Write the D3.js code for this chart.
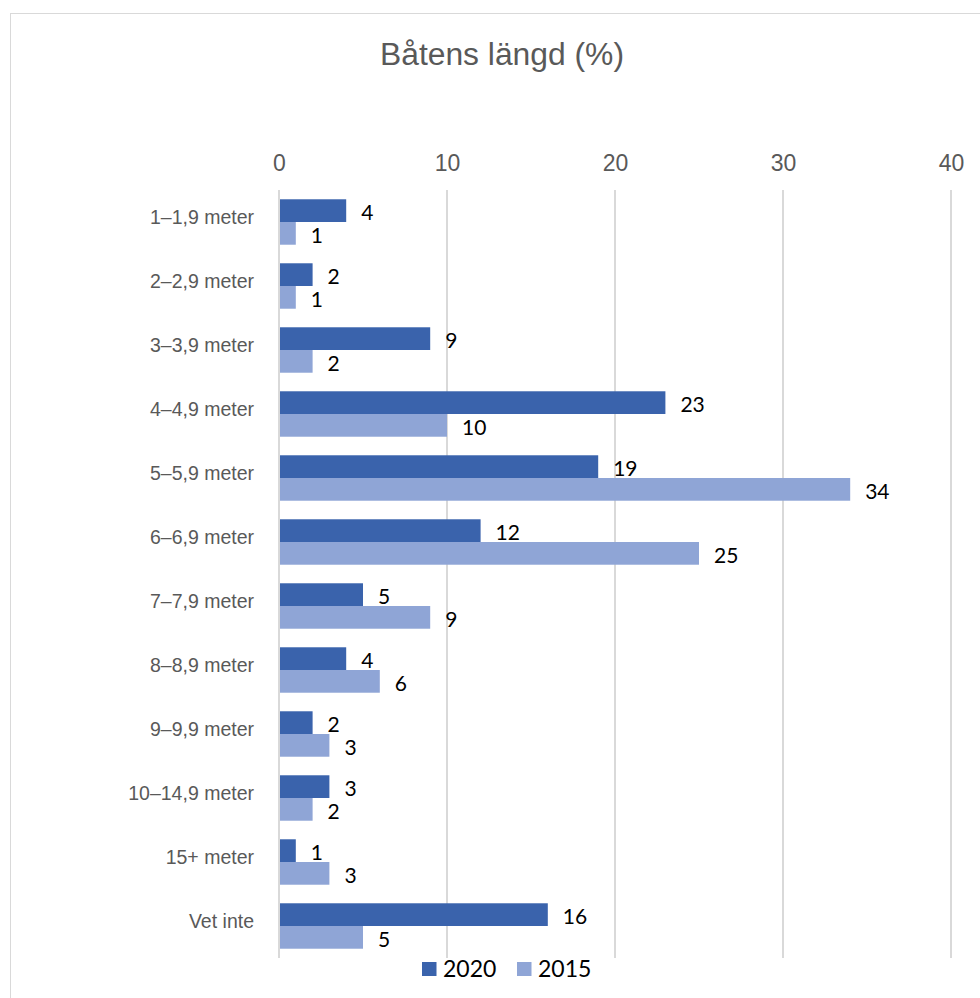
<!DOCTYPE html>
<html><head><meta charset="utf-8">
<script src="https://cdn.jsdelivr.net/npm/d3@7"></script>
<style>body{margin:0;background:#fff}</style>
</head><body>
<svg id="c" width="980" height="998"></svg>
<script>
const categories = ["1–1,9 meter","2–2,9 meter","3–3,9 meter","4–4,9 meter","5–5,9 meter","6–6,9 meter","7–7,9 meter","8–8,9 meter","9–9,9 meter","10–14,9 meter","15+ meter","Vet inte"];
const series = ["2020","2015"];
const values2020 = [4,2,9,23,19,12,5,4,2,3,1,16];
const values2015 = [1,1,2,10,34,25,9,6,3,2,3,5];
const ticks = [0,10,20,30,40];
const colors = ["#3A63AC","#8FA5D6"];

const svg = d3.select("#c");
svg.append("rect").attr("x",10.5).attr("y",13.5).attr("width",990).attr("height",1000)
  .attr("fill","#fff").attr("stroke","#d9d9d9").attr("stroke-width",1);

svg.append("text").attr("x",502).attr("y",65).attr("text-anchor","middle")
  .attr("font-family","Liberation Sans, Arial, sans-serif").attr("font-size",31).attr("fill","#595959")
  .attr("textLength",244).attr("lengthAdjust","spacingAndGlyphs")
  .text("Båtens längd (%)");

const x = d3.scaleLinear().domain([0,40]).range([279,951]);
const y = d3.scaleBand().domain(categories).range([190,958]).paddingInner(0.29).paddingOuter(0.145);
const y1 = d3.scaleBand().domain(series).range([0,y.bandwidth()]);

// gridlines
svg.append("g").selectAll("line").data(ticks).join("line")
  .attr("x1",d=>x(d)).attr("x2",d=>x(d)).attr("y1",190).attr("y2",958)
  .attr("stroke","#d9d9d9").attr("stroke-width",2);

// top axis
const ax = svg.append("g").attr("transform","translate(0,171)")
  .call(d3.axisTop(x).tickValues(ticks).tickSize(0).tickPadding(0));
ax.select(".domain").remove();
ax.selectAll("text").attr("font-family","Liberation Sans, Arial, sans-serif").attr("font-size",23).attr("fill","#595959");

// left axis
const ay = svg.append("g").attr("transform","translate(254,-4)")
  .call(d3.axisLeft(y).tickSize(0).tickPadding(0));
ay.select(".domain").remove();
ay.selectAll("text").attr("font-family","Liberation Sans, Arial, sans-serif").attr("font-size",19.5).attr("fill","#595959");

const data = categories.map((c,i)=>({c, v:[{s:"2020",v:values2020[i]},{s:"2015",v:values2015[i]}]}));
const g = svg.append("g").selectAll("g").data(data).join("g")
  .attr("transform",d=>`translate(0,${y(d.c)})`);
g.selectAll("rect").data(d=>d.v).join("rect")
  .attr("x",x(0)+1).attr("y",d=>y1(d.s)).attr("height",y1.bandwidth())
  .attr("width",d=>x(d.v)-x(0)-1)
  .attr("fill",(d,i)=>colors[i]);
g.selectAll("text").data(d=>d.v).join("text")
  .attr("x",d=>x(d.v)+15).attr("y",d=>y1(d.s)+y1.bandwidth()/2+2).attr("dy","0.36em")
  .attr("font-family","Lato, Carlito, sans-serif").attr("font-size",21).attr("fill","#000")
  .text(d=>d.v);

// legend
const lg = svg.append("g");
const lx = [422,517];
series.forEach((s,i)=>{
  lg.append("rect").attr("x",lx[i]).attr("y",962).attr("width",14.5).attr("height",14).attr("fill",colors[i]);
  lg.append("text").attr("x",lx[i]+21).attr("y",969).attr("dy","0.36em")
    .attr("font-family","Lato, Carlito, sans-serif").attr("font-size",23).attr("fill","#000").text(s);
});
</script>
</body></html>
